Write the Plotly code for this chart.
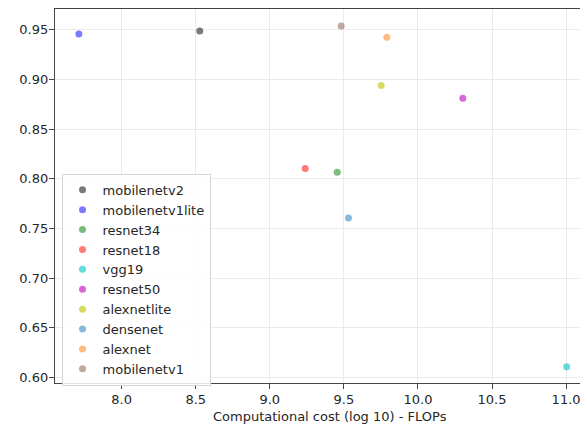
import plotly.graph_objects as go

models = ["mobilenetv2", "mobilenetv1lite", "resnet34", "resnet18", "vgg19",
          "resnet50", "alexnetlite", "densenet", "alexnet", "mobilenetv1"]
flops_log10 = [8.527, 7.711, 9.455, 9.239, 11.004, 10.303, 9.752, 9.531, 9.790, 9.482]
accuracy = [0.9487, 0.9457, 0.8066, 0.8104, 0.6108, 0.8811, 0.8938, 0.7604, 0.9424, 0.9537]
colors = ["rgba(0,0,0,0.52)", "rgba(0,0,255,0.52)", "rgba(0,128,0,0.52)",
          "rgba(255,0,0,0.52)", "rgba(0,191,191,0.6)", "rgba(191,0,191,0.6)",
          "rgba(191,191,0,0.6)", "rgba(31,119,180,0.52)", "rgba(255,127,14,0.52)",
          "rgba(140,86,75,0.52)"]
x_ticks = [8.0, 8.5, 9.0, 9.5, 10.0, 10.5, 11.0]
y_ticks = [0.60, 0.65, 0.70, 0.75, 0.80, 0.85, 0.90, 0.95]
x_title = "Computational cost (log 10) - FLOPs"

fig = go.Figure()
for name, xv, yv, c in zip(models, flops_log10, accuracy, colors):
    fig.add_trace(go.Scatter(x=[xv], y=[yv], mode="markers", name=name, cliponaxis=False,
                             marker=dict(color=c, size=7, line=dict(width=0))))

axis_common = dict(showgrid=True, gridcolor="#ebebeb", gridwidth=1,
                   showline=True, linecolor="#444444", linewidth=1.2,
                   ticks="outside", ticklen=5, tickcolor="#444444", tickwidth=1,
                   zeroline=False, automargin=False, ticklabeloverflow="allow",
                   tickfont=dict(size=13, color="#262626"))

fig.update_layout(
    width=580, height=425,
    margin=dict(l=54.5, r=0, t=9, b=41.5, autoexpand=False),
    paper_bgcolor="white", plot_bgcolor="white",
    font=dict(family="DejaVu Sans", size=13, color="#262626"),
    showlegend=True,
    legend=dict(x=0.0124, y=0.5594, xanchor="left", yanchor="top",
                bgcolor="rgba(255,255,255,0.85)", bordercolor="#d5d5d5",
                borderwidth=1, font=dict(size=13, color="#262626"),
                tracegroupgap=0),
    xaxis=dict(range=[7.55, 11.094], tickvals=x_ticks,
               ticktext=[f"{v:.1f}" for v in x_ticks], mirror=True,
               ticklabelstandoff=-1, **axis_common),
    yaxis=dict(range=[0.5945, 0.9708], tickvals=y_ticks,
               ticktext=[f"{v:.2f}" for v in y_ticks],
               ticklabelstandoff=-2, **axis_common),
    annotations=[dict(text=x_title, xref="x", yref="paper", x=9.405, y=0,
                      yshift=-33, xanchor="center", yanchor="middle",
                      showarrow=False, font=dict(size=13, color="#262626"))],
)

fig.write_html("out.html", config={"displayModeBar": False},
               post_script="document.body.style.margin='0';document.body.style.overflow='hidden';")
